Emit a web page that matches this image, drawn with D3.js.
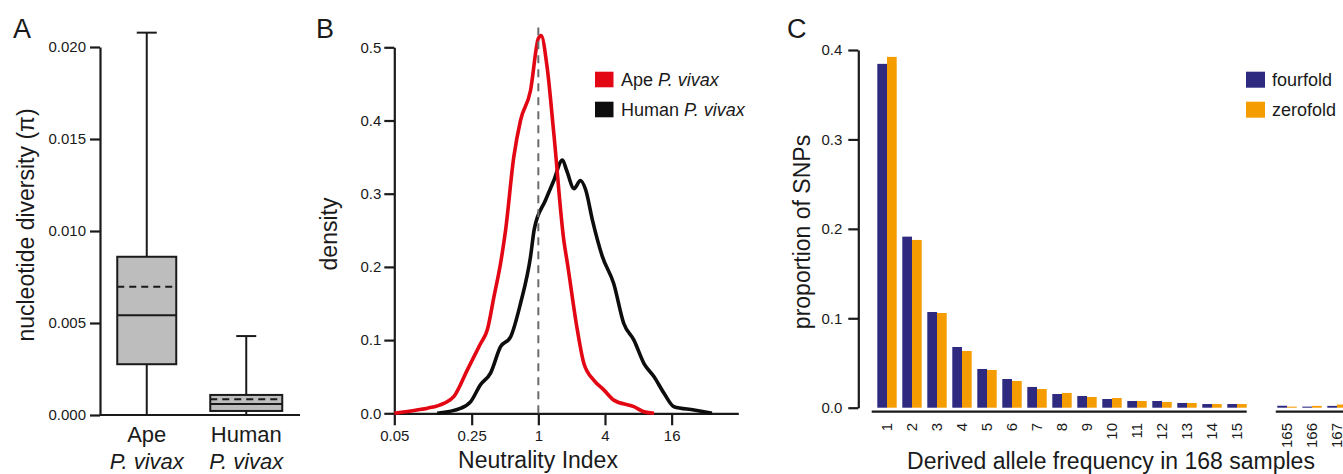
<!DOCTYPE html>
<html>
<head>
<meta charset="utf-8">
<script src="https://cdn.jsdelivr.net/npm/d3@7"></script>
<style>
  body { margin: 0; background: #fff; }
  svg { display: block; font-family: "Liberation Sans", Arial, Helvetica, sans-serif; }
</style>
</head>
<body>
<svg id="chart" width="1343" height="474"></svg>
<script>
// ---- Panel A: nucleotide diversity boxplots ----
const boxGroups = ["Ape", "Human"];
const boxWhiskerLow = [0, 0];
const boxQ1 = [0.00276, 0.00022];
const boxMedian = [0.00542, 0.0006];
const boxMean = [0.00697, 0.00085];
const boxQ3 = [0.0086, 0.00109];
const boxWhiskerHigh = [0.02078, 0.00429];
const diversityTicks = [0, 0.005, 0.01, 0.015, 0.02];

// ---- Panel B: density of neutrality index ----
const niTicks = [0.05, 0.25, 1, 4, 16];
const densityTicks = [0, 0.1, 0.2, 0.3, 0.4, 0.5];
const apeNI = [0.05, 0.08, 0.1, 0.14, 0.173, 0.228, 0.3, 0.346, 0.397, 0.456, 0.506, 0.6, 0.69, 0.85, 1.0, 1.06, 1.2, 1.38, 1.7, 1.83, 2.25, 2.58, 3.18, 3.9, 4.8, 7.3, 9, 11.1];
const apeDensity = [0, 0.0045, 0.007, 0.0136, 0.023, 0.059, 0.095, 0.114, 0.159, 0.205, 0.25, 0.35, 0.4, 0.441, 0.512, 0.516, 0.473, 0.382, 0.236, 0.205, 0.114, 0.068, 0.045, 0.032, 0.018, 0.009, 0.002, 0];
const humanNI = [0.122, 0.2, 0.245, 0.3, 0.37, 0.456, 0.56, 0.69, 0.85, 0.92, 1.16, 1.38, 1.65, 1.8, 2.1, 2.4, 2.68, 3.08, 3.79, 4.8, 5.9, 7.3, 9, 11.1, 13.7, 16.8, 25.5, 37];
const humanDensity = [0, 0.007, 0.016, 0.039, 0.055, 0.091, 0.104, 0.15, 0.214, 0.252, 0.291, 0.318, 0.346, 0.332, 0.307, 0.318, 0.305, 0.264, 0.214, 0.177, 0.123, 0.1, 0.068, 0.05, 0.027, 0.009, 0.0045, 0];

// ---- Panel C: site frequency spectrum ----
const sfsBins = ["1", "2", "3", "4", "5", "6", "7", "8", "9", "10", "11", "12", "13", "14", "15", "", "165", "166", "167"];
const fourfold = [0.3845, 0.1913, 0.107, 0.0679, 0.0433, 0.0321, 0.0232, 0.0153, 0.0131, 0.0097, 0.0075, 0.0075, 0.0053, 0.0041, 0.0041, null, 0.0022, 0.0012, 0.002];
const zerofold = [0.3923, 0.1876, 0.1059, 0.0634, 0.0422, 0.0299, 0.0209, 0.0165, 0.012, 0.0108, 0.0075, 0.0064, 0.0053, 0.0041, 0.0041, null, 0.0012, 0.002, 0.0035];
const sfsSeries = ["fourfold", "zerofold"];

const ink = "#1a1a1a";
const red = "#e30613";
const navy = "#2d2a7f";
const orange = "#f59d00";

const svg = d3.select("#chart");

function styleAxis(g, size) {
  g.attr("font-family", null).attr("font-size", size);
  g.select(".domain").attr("stroke", ink).attr("stroke-width", 2.2);
  g.selectAll(".tick line").attr("stroke", ink).attr("stroke-width", 2.2);
  g.selectAll(".tick text").attr("fill", ink);
}

// panel letters
[["A", 13], ["B", 316], ["C", 787]].forEach(([t, x]) => {
  svg.append("text").attr("x", x).attr("y", 38).attr("font-size", 27).attr("fill", ink).text(t);
});

// ================= Panel A =================
const yA = d3.scaleLinear().domain([0, 0.02]).range([415, 47]);
const xA = d3.scalePoint().domain(boxGroups).range([97, 296]).padding(0.5);
const boxW = { Ape: 59, Human: 72 };

svg.append("g")
  .attr("transform", "translate(100,0)")
  .call(d3.axisLeft(yA).tickValues(diversityTicks).tickFormat(d3.format(".3f"))
    .tickSize(10).tickSizeOuter(0).tickPadding(4))
  .call(styleAxis, 15);

svg.append("line")
  .attr("x1", 100).attr("x2", 300)
  .attr("y1", yA(0)).attr("y2", yA(0))
  .attr("stroke", ink).attr("stroke-width", 2.2);

const boxes = svg.append("g");
boxGroups.forEach((grp, i) => {
  const cx = xA(grp), w = boxW[grp];
  const g = boxes.append("g").attr("stroke", ink).attr("stroke-width", 2);
  g.append("line").attr("x1", cx).attr("x2", cx)
    .attr("y1", yA(boxWhiskerLow[i])).attr("y2", yA(boxWhiskerHigh[i]));
  [boxWhiskerLow[i], boxWhiskerHigh[i]].forEach(v => {
    g.append("line").attr("x1", cx - 10).attr("x2", cx + 10)
      .attr("y1", yA(v)).attr("y2", yA(v));
  });
  g.append("rect")
    .attr("x", cx - w / 2).attr("width", w)
    .attr("y", yA(boxQ3[i])).attr("height", yA(boxQ1[i]) - yA(boxQ3[i]))
    .attr("fill", "#bdbdbd");
  g.append("line").attr("x1", cx - w / 2).attr("x2", cx + w / 2)
    .attr("y1", yA(boxMedian[i])).attr("y2", yA(boxMedian[i]));
  g.append("line").attr("x1", cx - w / 2).attr("x2", cx + w / 2)
    .attr("y1", yA(boxMean[i])).attr("y2", yA(boxMean[i]))
    .attr("stroke-dasharray", "7,5");

  const lab = svg.append("text").attr("text-anchor", "middle").attr("font-size", 22).attr("fill", ink);
  lab.append("tspan").attr("x", cx).attr("y", 442).text(grp);
  lab.append("tspan").attr("x", cx).attr("y", 469).attr("font-style", "italic").text("P. vivax");
});

svg.append("text")
  .attr("transform", "translate(34,225) rotate(-90)")
  .attr("text-anchor", "middle").attr("font-size", 23).attr("fill", ink)
  .text("nucleotide diversity (π)");

// ================= Panel B =================
const xB = d3.scaleLog().base(2).domain([0.05, 64]).range([394.3, 738.3]);
const yB = d3.scaleLinear().domain([0, 0.5]).range([413.3, 47.3]);

svg.append("g")
  .attr("transform", "translate(394.3,0)")
  .call(d3.axisLeft(yB).tickValues(densityTicks).tickFormat(d3.format(".1f"))
    .tickSize(10).tickSizeOuter(0).tickPadding(3))
  .call(styleAxis, 15);

svg.append("g")
  .attr("transform", `translate(0,${yB(0)})`)
  .call(d3.axisBottom(xB).tickValues(niTicks).tickFormat(d => d)
    .tickSize(12).tickSizeOuter(0).tickPadding(5))
  .call(styleAxis, 15);

const lineB = d3.line()
  .x(d => xB(d[0]))
  .y(d => yB(d[1]))
  .curve(d3.curveMonotoneX);

svg.append("path")
  .datum(d3.zip(humanNI, humanDensity))
  .attr("d", lineB)
  .attr("fill", "none").attr("stroke", "#0d0d0d").attr("stroke-width", 3.6)
  .attr("stroke-linejoin", "round");

svg.append("path")
  .datum(d3.zip(apeNI, apeDensity))
  .attr("d", lineB)
  .attr("fill", "none").attr("stroke", red).attr("stroke-width", 3.6)
  .attr("stroke-linejoin", "round");

svg.append("line")
  .attr("x1", xB(1)).attr("x2", xB(1))
  .attr("y1", yB(0)).attr("y2", yB(0.527))
  .attr("stroke", "#6b6b6b").attr("stroke-width", 2)
  .attr("stroke-dasharray", "8,6");

const legB = [["Ape ", red], ["Human ", "#0d0d0d"]];
legB.forEach(([name, col], i) => {
  const y0 = 71.7 + i * 30;
  svg.append("rect").attr("x", 595).attr("y", y0).attr("width", 18.5).attr("height", 15.6).attr("fill", col);
  const t = svg.append("text").attr("x", 621).attr("y", y0 + 14).attr("font-size", 18).attr("fill", ink);
  t.append("tspan").text(name);
  t.append("tspan").attr("font-style", "italic").text("P. vivax");
});

svg.append("text")
  .attr("transform", "translate(337,234) rotate(-90)")
  .attr("text-anchor", "middle").attr("font-size", 23).attr("fill", ink)
  .text("density");

svg.append("text")
  .attr("x", 538).attr("y", 468)
  .attr("text-anchor", "middle").attr("font-size", 23).attr("fill", ink)
  .text("Neutrality Index");

// ================= Panel C =================
const yC = d3.scaleLinear().domain([0, 0.4]).range([407.7, 50]);
const xC = d3.scaleBand().domain(sfsBins).range([874.5, 874.5 + sfsBins.length * 25])
  .paddingInner(0.224).paddingOuter(0.112);
const xSub = d3.scaleBand().domain(sfsSeries).range([0, xC.bandwidth()]);
const sfsColor = d3.scaleOrdinal().domain(sfsSeries).range([navy, orange]);

svg.append("g")
  .attr("transform", "translate(858.3,0)")
  .call(d3.axisLeft(yC).tickValues([0, 0.1, 0.2, 0.3, 0.4]).tickFormat(d3.format(".1f"))
    .tickSize(10).tickSizeOuter(0).tickPadding(6))
  .call(styleAxis, 15);

const sfsRows = sfsBins.map((b, i) => ({ bin: b, fourfold: fourfold[i], zerofold: zerofold[i] }))
  .filter(d => d.bin !== "");

const groups = svg.append("g").selectAll("g")
  .data(sfsRows)
  .join("g")
  .attr("transform", d => `translate(${xC(d.bin)},0)`);

groups.selectAll("rect")
  .data(d => sfsSeries.map(s => ({ key: s, value: d[s] })))
  .join("rect")
  .attr("x", d => xSub(d.key))
  .attr("width", xSub.bandwidth())
  .attr("y", d => yC(d.value))
  .attr("height", d => yC(0) - yC(d.value))
  .attr("fill", d => sfsColor(d.key));

// broken x axis
const axisY = 411.7;
svg.append("line")
  .attr("x1", xC("1") - 5.6).attr("x2", xC("15") + xC.bandwidth())
  .attr("y1", axisY).attr("y2", axisY)
  .attr("stroke", ink).attr("stroke-width", 2.2);
svg.append("line")
  .attr("x1", xC("165") - 1.5).attr("x2", 1343)
  .attr("y1", axisY).attr("y2", axisY)
  .attr("stroke", ink).attr("stroke-width", 2.2);

svg.append("g").selectAll("text")
  .data(sfsRows)
  .join("text")
  .attr("transform", d => `translate(${xC(d.bin) + xC.bandwidth() / 2},423) rotate(-90)`)
  .attr("text-anchor", "end")
  .attr("dy", "0.35em")
  .attr("font-size", 15).attr("fill", ink)
  .text(d => d.bin);

sfsSeries.forEach((s, i) => {
  const y0 = 71.7 + i * 30;
  svg.append("rect").attr("x", 1246).attr("y", y0).attr("width", 19).attr("height", 16).attr("fill", sfsColor(s));
  svg.append("text").attr("x", 1272).attr("y", y0 + 14).attr("font-size", 18).attr("fill", ink).text(s);
});

svg.append("text")
  .attr("transform", "translate(810,232) rotate(-90)")
  .attr("text-anchor", "middle").attr("font-size", 23).attr("fill", ink)
  .text("proportion of SNPs");

svg.append("text")
  .attr("x", 1111).attr("y", 469)
  .attr("text-anchor", "middle").attr("font-size", 23).attr("fill", ink)
  .text("Derived allele frequency in 168 samples");
</script>
</body>
</html>
